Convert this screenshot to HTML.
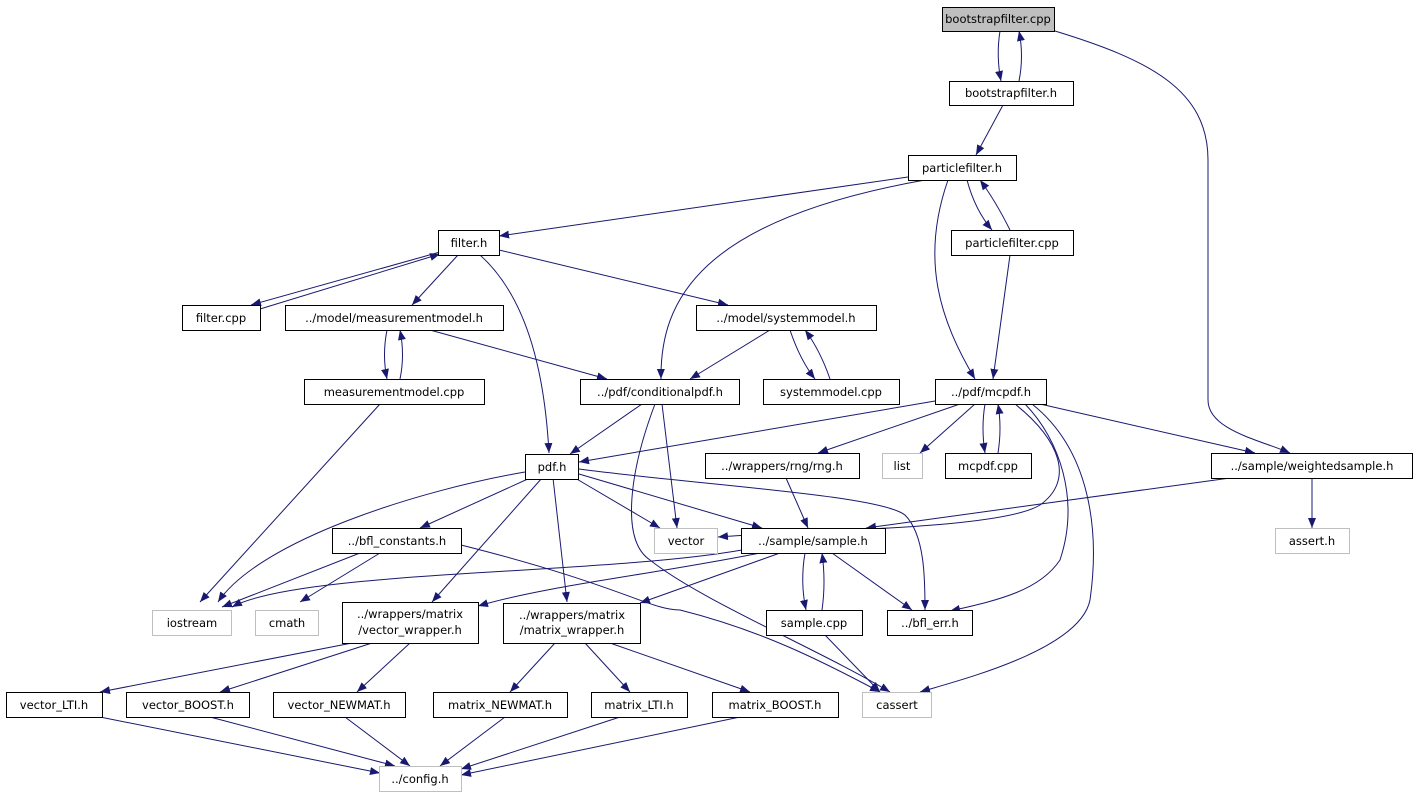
<!DOCTYPE html>
<html><head><meta charset="utf-8"><style>
html,body{margin:0;padding:0;background:#fff;}
svg{display:block;}
text{font-family:"DejaVu Sans","Liberation Sans",sans-serif;font-size:11.5px;fill:#000;text-anchor:middle;}
.n{fill:#fff;stroke:#000;stroke-width:1;}
.g{fill:#fff;stroke:#bfbfbf;stroke-width:1;}
.e{fill:none;stroke:#191970;stroke-width:1;marker-end:url(#a);}
</style></head><body>
<svg width="1418" height="799" viewBox="0 0 1418 799" xmlns="http://www.w3.org/2000/svg">
<defs><marker id="a" viewBox="0 0 10 10" refX="10" refY="5" markerWidth="10" markerHeight="10" markerUnits="userSpaceOnUse" orient="auto"><path d="M0,1 L10,5 L0,9 z" fill="#191970"/></marker></defs>
<g>
<path class="e" d="M1000,31 Q996,56 1001,81"/>
<path class="e" d="M1019,81 Q1024,56 1019,31"/>
<path class="e" d="M1055,31 C1150,60 1208,90 1208,160 L1208,400 C1208,430 1260,440 1290,453"/>
<path class="e" d="M1003,105 L976,155"/>
<path class="e" d="M908,177 L499,236"/>
<path class="e" d="M925,180 C700,220 660,300 661,379"/>
<path class="e" d="M948,180 C920,260 940,320 975,379"/>
<path class="e" d="M967,180 Q975,210 992,230"/>
<path class="e" d="M1010,230 Q995,200 980,180"/>
<path class="e" d="M1010,255 L993,379"/>
<path class="e" d="M440,252 L251,305"/>
<path class="e" d="M260,309 L440,254" />
<path class="e" d="M458,255 L412,305"/>
<path class="e" d="M480,255 C530,300 545,380 549,453"/>
<path class="e" d="M499,250 L728,305"/>
<path class="e" d="M387,330 Q382,355 387,379"/>
<path class="e" d="M400,379 Q405,355 400,330"/>
<path class="e" d="M430,330 L607,379"/>
<path class="e" d="M770,330 L690,379"/>
<path class="e" d="M790,330 Q800,360 815,379"/>
<path class="e" d="M830,379 Q820,350 805,330"/>
<path class="e" d="M380,404 L200,602"/>
<path class="e" d="M642,404 L570,454"/>
<path class="e" d="M662,404 L677,528"/>
<path class="e" d="M655,404 C630,470 620,540 650,560 C700,600 820,650 890,692"/>
<path class="e" d="M935,401 L579,462"/>
<path class="e" d="M960,404 L818,453"/>
<path class="e" d="M975,404 L920,453"/>
<path class="e" d="M985,404 Q981,428 985,453"/>
<path class="e" d="M998,453 Q1002,428 998,404"/>
<path class="e" d="M1040,404 L1255,453"/>
<path class="e" d="M1015,404 C1060,440 1075,480 1040,505 C1000,530 800,530 718,537"/>
<path class="e" d="M1025,404 C1060,440 1080,500 1060,560 C1040,590 1000,600 950,611"/>
<path class="e" d="M1032,404 C1090,450 1100,530 1090,600 C1080,650 960,680 920,692"/>
<path class="e" d="M525,472 C420,490 260,540 218,602"/>
<path class="e" d="M530,478 L420,528"/>
<path class="e" d="M542,478 L432,602"/>
<path class="e" d="M553,478 L567,602"/>
<path class="e" d="M575,478 L660,528"/>
<path class="e" d="M579,474 L762,528"/>
<path class="e" d="M579,469 C700,485 880,495 905,515 C925,535 925,580 925,610"/>
<path class="e" d="M786,478 L808,528"/>
<path class="e" d="M1230,478 L866,528"/>
<path class="e" d="M1312,478 L1312,528"/>
<path class="e" d="M360,553 L222,607"/>
<path class="e" d="M380,553 L300,602"/>
<path class="e" d="M461,545 C620,585 650,610 680,610 C760,630 820,660 880,692"/>
<path class="e" d="M742,550 C600,575 300,570 232,607"/>
<path class="e" d="M760,553 C650,575 550,585 478,606"/>
<path class="e" d="M780,553 L640,603"/>
<path class="e" d="M805,553 Q800,582 806,610"/>
<path class="e" d="M822,610 Q826,582 822,553"/>
<path class="e" d="M832,553 L912,610"/>
<path class="e" d="M825,635 L880,692"/>
<path class="e" d="M352,643 L100,692"/>
<path class="e" d="M372,643 L220,692"/>
<path class="e" d="M410,643 L357,692"/>
<path class="e" d="M555,643 L510,692"/>
<path class="e" d="M585,643 L630,692"/>
<path class="e" d="M610,643 L750,692"/>
<path class="e" d="M100,717 L380,773"/>
<path class="e" d="M210,717 L395,766"/>
<path class="e" d="M345,717 L410,766"/>
<path class="e" d="M505,717 L440,766"/>
<path class="e" d="M620,717 L461,769"/>
<path class="e" d="M740,717 L461,775"/>
</g>
<g>
<rect x="942.5" y="7.5" width="112" height="24" fill="#bfbfbf" stroke="#000"/><text x="998" y="23">bootstrapfilter.cpp</text>
<rect class="n" x="949.5" y="81.5" width="124" height="24"/><text x="1011" y="97">bootstrapfilter.h</text>
<rect class="n" x="908.5" y="155.5" width="108" height="25"/><text x="962" y="172">particlefilter.h</text>
<rect class="n" x="438.5" y="230.5" width="61" height="25"/><text x="469" y="247">filter.h</text>
<rect class="n" x="951.5" y="230.5" width="122" height="25"/><text x="1012" y="247">particlefilter.cpp</text>
<rect class="n" x="182.5" y="305.5" width="78" height="25"/><text x="221" y="322">filter.cpp</text>
<rect class="n" x="285.5" y="305.5" width="218" height="25"/><text x="394" y="322">../model/measurementmodel.h</text>
<rect class="n" x="696.5" y="305.5" width="180" height="25"/><text x="786" y="322">../model/systemmodel.h</text>
<rect class="n" x="304.5" y="379.5" width="180" height="25"/><text x="394" y="396">measurementmodel.cpp</text>
<rect class="n" x="580.5" y="379.5" width="159" height="25"/><text x="660" y="396">../pdf/conditionalpdf.h</text>
<rect class="n" x="763.5" y="379.5" width="136" height="25"/><text x="831" y="396">systemmodel.cpp</text>
<rect class="n" x="935.5" y="379.5" width="111" height="25"/><text x="991" y="396">../pdf/mcpdf.h</text>
<rect class="n" x="525.5" y="454.5" width="53" height="25"/><text x="552" y="471">pdf.h</text>
<rect class="n" x="705.5" y="453.5" width="154" height="25"/><text x="782" y="470">../wrappers/rng/rng.h</text>
<rect class="g" x="882.5" y="453.5" width="40" height="25"/><text x="902" y="470">list</text>
<rect class="n" x="945.5" y="453.5" width="86" height="25"/><text x="988" y="470">mcpdf.cpp</text>
<rect class="n" x="1211.5" y="453.5" width="201" height="25"/><text x="1312" y="470">../sample/weightedsample.h</text>
<rect class="n" x="332.5" y="528.5" width="129" height="25"/><text x="397" y="545">../bfl_constants.h</text>
<rect class="g" x="654.5" y="528.5" width="63" height="25"/><text x="686" y="545">vector</text>
<rect class="n" x="741.5" y="528.5" width="144" height="25"/><text x="813" y="545">../sample/sample.h</text>
<rect class="g" x="1275.5" y="528.5" width="74" height="25"/><text x="1312" y="545">assert.h</text>
<rect class="g" x="152.5" y="610.5" width="79" height="25"/><text x="192" y="627">iostream</text>
<rect class="g" x="255.5" y="610.5" width="63" height="25"/><text x="287" y="627">cmath</text>
<rect class="n" x="342.5" y="602.5" width="136" height="41"/><text x="410" y="618">../wrappers/matrix</text><text x="410" y="634">/vector_wrapper.h</text>
<rect class="n" x="503.5" y="603.5" width="137" height="40"/><text x="572" y="619">../wrappers/matrix</text><text x="572" y="634">/matrix_wrapper.h</text>
<rect class="n" x="766.5" y="610.5" width="96" height="25"/><text x="814" y="627">sample.cpp</text>
<rect class="n" x="887.5" y="610.5" width="85" height="25"/><text x="930" y="627">../bfl_err.h</text>
<rect class="n" x="6.5" y="692.5" width="96" height="25"/><text x="54" y="709">vector_LTI.h</text>
<rect class="n" x="126.5" y="692.5" width="123" height="25"/><text x="188" y="709">vector_BOOST.h</text>
<rect class="n" x="273.5" y="692.5" width="132" height="25"/><text x="339" y="709">vector_NEWMAT.h</text>
<rect class="n" x="433.5" y="692.5" width="134" height="25"/><text x="500" y="709">matrix_NEWMAT.h</text>
<rect class="n" x="591.5" y="692.5" width="96" height="25"/><text x="639" y="709">matrix_LTI.h</text>
<rect class="n" x="712.5" y="692.5" width="126" height="25"/><text x="775" y="709">matrix_BOOST.h</text>
<rect class="g" x="862.5" y="692.5" width="69" height="25"/><text x="897" y="709">cassert</text>
<rect class="g" x="379.5" y="766.5" width="82" height="25"/><text x="420" y="783">../config.h</text>
</g>
</svg>
</body></html>
